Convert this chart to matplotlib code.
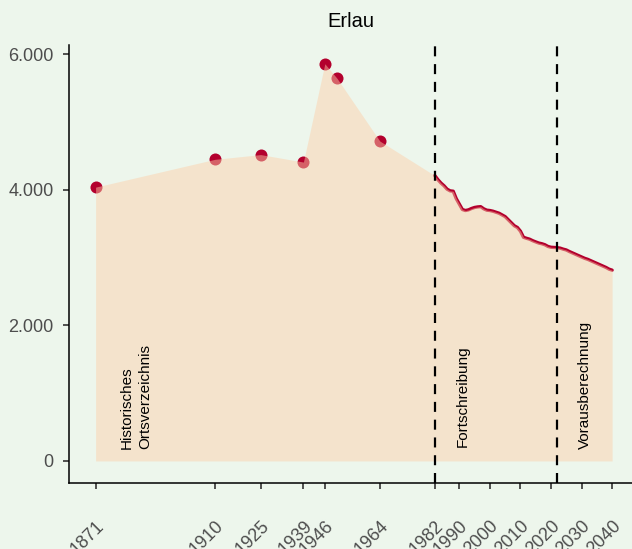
import matplotlib
matplotlib.use("Agg")
import matplotlib.pyplot as plt
from matplotlib.ticker import FuncFormatter

plt.rcParams['font.family'] = ['Liberation Sans', 'DejaVu Sans']

# historische Einwohnerzahlen (Ortsverzeichnis)
hist_years = [1871, 1910, 1925, 1939, 1946, 1950, 1964]
hist_pop = [4040, 4450, 4520, 4410, 5860, 5645, 4720]

# Fortschreibung 1982-2022
fort_years = list(range(1982, 2023))
fort_pop = [4210, 4150, 4100, 4060, 4010, 3985, 3980, 3870, 3790, 3710,
            3695, 3705, 3725, 3740, 3748, 3752, 3720, 3700, 3695, 3685,
            3670, 3655, 3630, 3605, 3560, 3515, 3470, 3445, 3390, 3300,
            3285, 3272, 3250, 3232, 3215, 3205, 3190, 3165, 3153, 3150,
            3147]

# Vorausberechnung 2023-2040
proj_years = list(range(2023, 2041))
proj_pop = [3140, 3125, 3113, 3090, 3070, 3050, 3030, 3010, 2990, 2975,
            2955, 2935, 2915, 2895, 2875, 2855, 2830, 2815]

tick_years = [1871, 1910, 1925, 1939, 1946, 1964, 1982, 1990, 2000, 2010, 2020, 2030, 2040]
y_ticks = [0, 2000, 4000, 6000]
breaks = [1982, 2022]

bg = '#EDF6EC'
red = '#B3002D'
grey = '#4D4D4D'

fig = plt.figure(figsize=(6.32, 5.49), dpi=100, facecolor=bg)
ax = fig.add_axes([69 / 632, 66 / 549, 563 / 632, 438 / 549])
ax.set_facecolor(bg)

line_years = fort_years + proj_years
line_pop = fort_pop + proj_pop
all_years = hist_years + line_years
all_pop = hist_pop + line_pop

ax.scatter(hist_years, hist_pop, s=75, color=red, zorder=2, linewidths=0)
ax.plot(line_years, line_pop, color=red, lw=2.4, zorder=2, solid_capstyle='round')
ax.fill_between(all_years, 0, all_pop, color='#FDCFA9', alpha=0.47, lw=0, zorder=3)

for b in breaks:
    ax.axvline(b, color='black', lw=1.6, ls=(0, (4.5, 3.5)), zorder=4)

txt = dict(rotation=90, ha='center', va='bottom', fontsize=11, color='black', zorder=5)
ax.text(1884.2, 170, 'Historisches\nOrtsverzeichnis', multialignment='left', linespacing=1.35, **txt)
ax.text(1991.1, 200, 'Fortschreibung', **txt)
ax.text(2031.2, 170, 'Vorausberechnung', **txt)

ax.set_xlim(1862.3, 2046.5)
ax.set_ylim(-325, 6137)
ax.set_xticks(tick_years)
ax.set_xticklabels([str(t) for t in tick_years], rotation=45, ha='right', va='top',
                   rotation_mode='anchor')
ax.set_yticks(y_ticks)
ax.yaxis.set_major_formatter(FuncFormatter(lambda v, p: f'{int(v):,}'.replace(',', '.')))

ax.tick_params(axis='both', colors='#333333', labelcolor=grey, labelsize=13, length=4, width=1.2)
ax.tick_params(axis='y', pad=7)
ax.tick_params(axis='x', pad=21)

for s in ['top', 'right']:
    ax.spines[s].set_visible(False)
for s in ['left', 'bottom']:
    ax.spines[s].set_color('black')
    ax.spines[s].set_linewidth(1.1)

ax.set_title('Erlau', fontsize=14.5, color='black', pad=13)

fig.savefig('out.png', dpi=100, facecolor=bg)
